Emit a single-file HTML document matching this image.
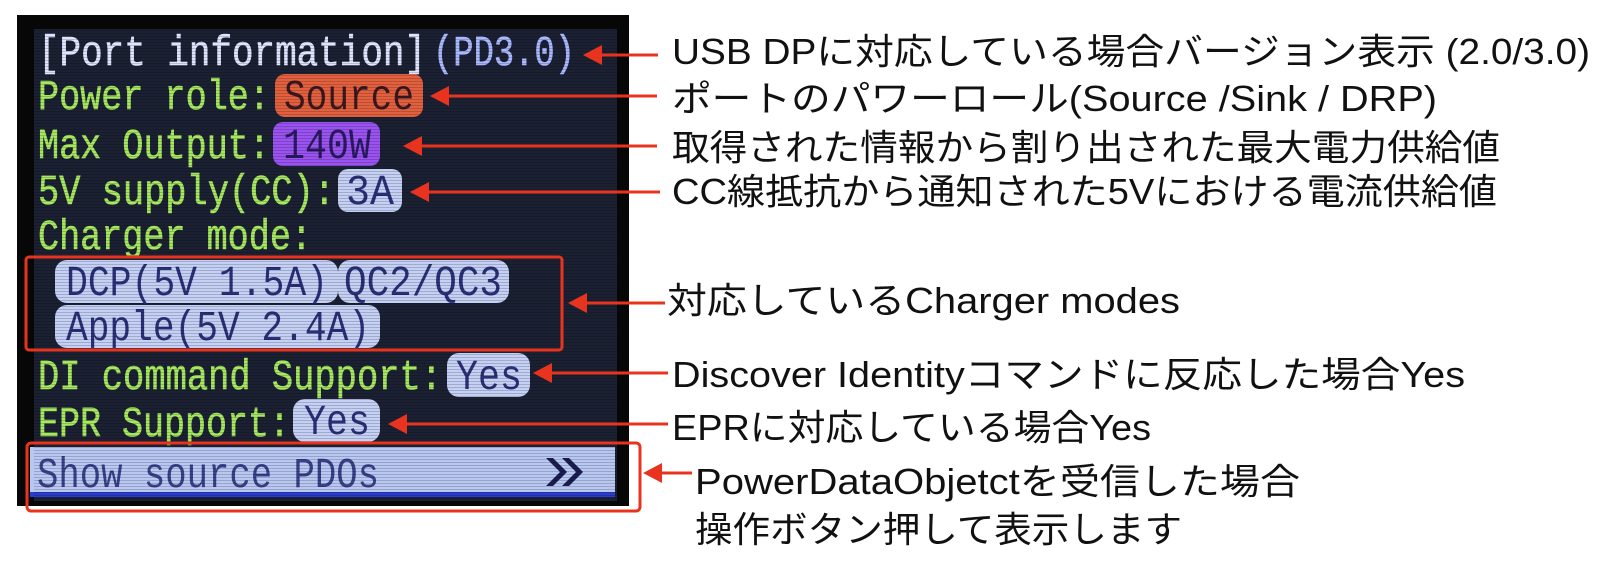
<!DOCTYPE html>
<html><head><meta charset="utf-8"><style>
html,body{margin:0;padding:0;background:#fff;width:1600px;height:580px;overflow:hidden}
svg{display:block}
.lcd{font-family:"Liberation Mono",monospace;font-size:43px;font-weight:normal}
.g{fill:#a6e85e;stroke:#a6e85e;stroke-width:0.6}
.d{fill:#2a2f78}
.ann{font-family:"Liberation Sans","Noto Sans CJK JP",sans-serif;font-size:36px;fill:#111}
</style></head><body>
<svg width="1600" height="580" viewBox="0 0 1600 580" xmlns="http://www.w3.org/2000/svg">
<defs>
<pattern id="scan" width="4" height="3" patternUnits="userSpaceOnUse"><rect width="4" height="1" fill="#000" opacity="0.18"/></pattern>
</defs>
<rect x="17" y="15" width="612" height="491" fill="#070707"/>
<rect x="34" y="29" width="583" height="472" fill="#1b2133"/>
<text class="lcd" x="38" y="65" fill="#e2e4ff" stroke="#e2e4ff" stroke-width="0.6" textLength="388" lengthAdjust="spacingAndGlyphs">[Port information]</text>
<text class="lcd" x="433" y="65" fill="#a9b8ff" stroke="#a9b8ff" stroke-width="0.6" textLength="142" lengthAdjust="spacingAndGlyphs">(PD3.0)</text>
<text class="lcd g" x="38" y="109" textLength="232" lengthAdjust="spacingAndGlyphs">Power role:</text>
<rect x="275" y="74" width="148" height="43" rx="10" fill="#e2603e"/>
<text class="lcd" x="284" y="109" fill="#3a1820" textLength="130" lengthAdjust="spacingAndGlyphs">Source</text>
<text class="lcd g" x="38" y="158" textLength="232" lengthAdjust="spacingAndGlyphs">Max Output:</text>
<rect x="273" y="122" width="107" height="44" rx="10" fill="#9a52f0"/>
<text class="lcd" x="283" y="158" fill="#2a1a60" textLength="88" lengthAdjust="spacingAndGlyphs">140W</text>
<text class="lcd g" x="38" y="204" textLength="297" lengthAdjust="spacingAndGlyphs">5V supply(CC):</text>
<rect x="338" y="169" width="64" height="43" rx="10" fill="#c4d0f4"/>
<text class="lcd d" x="346" y="204" textLength="48" lengthAdjust="spacingAndGlyphs">3A</text>
<text class="lcd g" x="38" y="249" textLength="274" lengthAdjust="spacingAndGlyphs">Charger mode:</text>
<rect x="55" y="260" width="283" height="43" rx="12" fill="#c4d0f4"/>
<text class="lcd d" x="66" y="295" textLength="262" lengthAdjust="spacingAndGlyphs">DCP(5V 1.5A)</text>
<rect x="338" y="260" width="171" height="43" rx="12" fill="#c4d0f4"/>
<text class="lcd d" x="344" y="295" textLength="158" lengthAdjust="spacingAndGlyphs">QC2/QC3</text>
<rect x="55" y="305" width="325" height="43" rx="12" fill="#c4d0f4"/>
<text class="lcd d" x="66" y="340" textLength="304" lengthAdjust="spacingAndGlyphs">Apple(5V 2.4A)</text>
<text class="lcd g" x="38" y="389" textLength="404" lengthAdjust="spacingAndGlyphs">DI command Support:</text>
<rect x="447" y="353" width="83" height="44" rx="12" fill="#c4d0f4"/>
<text class="lcd d" x="456" y="389" textLength="66" lengthAdjust="spacingAndGlyphs">Yes</text>
<text class="lcd g" x="38" y="436" textLength="252" lengthAdjust="spacingAndGlyphs">EPR Support:</text>
<rect x="293" y="399" width="87" height="43" rx="12" fill="#c4d0f4"/>
<text class="lcd d" x="304" y="434" textLength="66" lengthAdjust="spacingAndGlyphs">Yes</text>
<rect x="30" y="447" width="585" height="50" fill="#b9c8f2"/>
<rect x="30" y="492" width="585" height="5" fill="#2a3bd0"/>
<text class="lcd" x="37" y="487" fill="#3a3f8a" textLength="342" lengthAdjust="spacingAndGlyphs">Show source PDOs</text>
<path d="M546 458 L560 472 L546 486 L553 486 L567 472 L553 458 Z M562 458 L576 472 L562 486 L569 486 L583 472 L569 458 Z" fill="#1a1d50"/>
<rect x="34" y="29" width="583" height="472" fill="url(#scan)"/>
<rect x="26" y="257" width="536" height="93" rx="3" fill="none" stroke="#e8341f" stroke-width="3"/>
<rect x="27" y="443" width="613" height="68" rx="4" fill="none" stroke="#e8341f" stroke-width="3"/>
<g stroke="#e8341f" stroke-width="3">
<line x1="598" y1="55" x2="658" y2="55"/>
<line x1="445" y1="96" x2="657" y2="96"/>
<line x1="418" y1="146" x2="657" y2="146"/>
<line x1="425" y1="192" x2="660" y2="192"/>
<line x1="583" y1="303" x2="665" y2="303"/>
<line x1="548" y1="373" x2="668" y2="373"/>
<line x1="403" y1="424" x2="668" y2="424"/>
<line x1="658" y1="473" x2="692" y2="473"/>
</g>
<g fill="#e8341f">
<polygon points="583,55 602,45 602,65"/>
<polygon points="430,96 449,86 449,106"/>
<polygon points="403,146 422,136 422,156"/>
<polygon points="410,192 429,182 429,202"/>
<polygon points="568,303 587,293 587,313"/>
<polygon points="533,373 552,363 552,383"/>
<polygon points="388,424 407,414 407,434"/>
<polygon points="643,473 662,463 662,483"/>
</g>
<text class="ann" x="672" y="64" textLength="918" lengthAdjust="spacingAndGlyphs">USB DPに対応している場合バージョン表示 (2.0/3.0)</text>
<text class="ann" x="672" y="111" textLength="765" lengthAdjust="spacingAndGlyphs">ポートのパワーロール(Source /Sink / DRP)</text>
<text class="ann" x="672" y="160" textLength="828" lengthAdjust="spacingAndGlyphs">取得された情報から割り出された最大電力供給値</text>
<text class="ann" x="672" y="204" textLength="825" lengthAdjust="spacingAndGlyphs">CC線抵抗から通知された5Vにおける電流供給値</text>
<text class="ann" x="667" y="313" textLength="513" lengthAdjust="spacingAndGlyphs">対応しているCharger modes</text>
<text class="ann" x="672" y="387" textLength="793" lengthAdjust="spacingAndGlyphs">Discover Identityコマンドに反応した場合Yes</text>
<text class="ann" x="672" y="440" textLength="479" lengthAdjust="spacingAndGlyphs">EPRに対応している場合Yes</text>
<text class="ann" x="695" y="494" textLength="605" lengthAdjust="spacingAndGlyphs">PowerDataObjetctを受信した場合</text>
<text class="ann" x="695" y="542" textLength="487" lengthAdjust="spacingAndGlyphs">操作ボタン押して表示します</text>
</svg>
</body></html>
